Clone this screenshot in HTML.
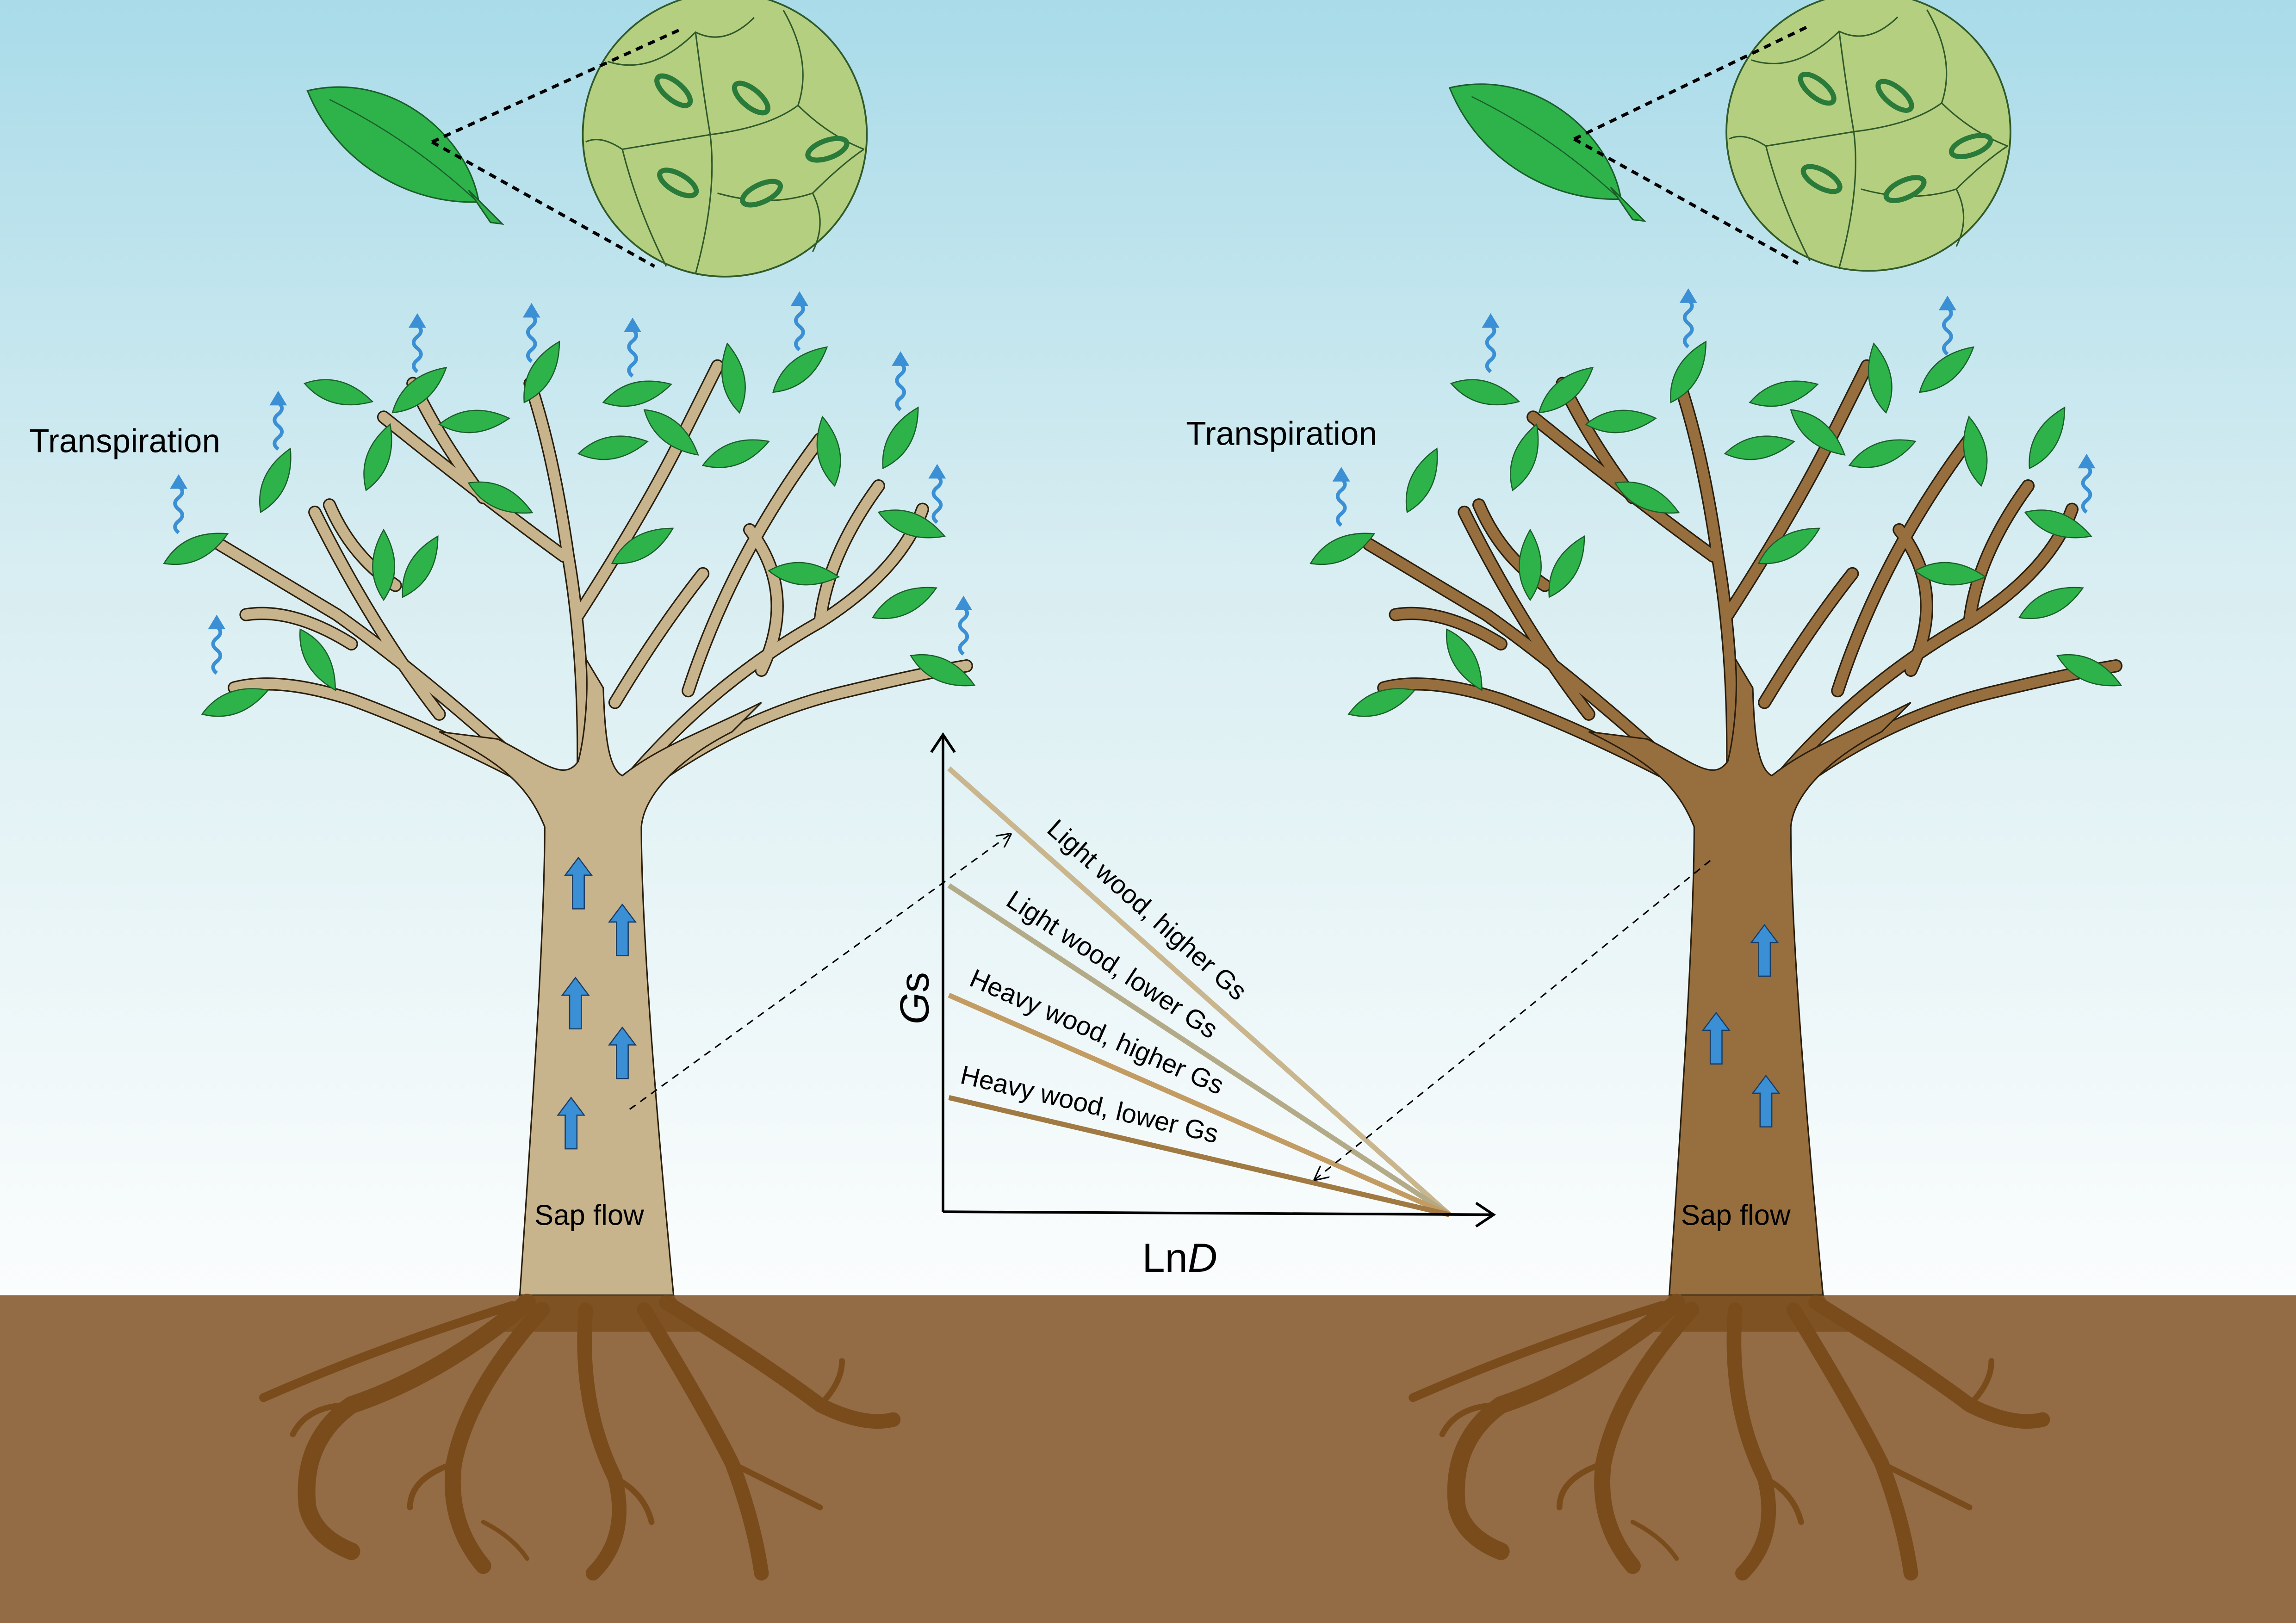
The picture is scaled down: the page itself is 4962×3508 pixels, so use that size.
<!DOCTYPE html>
<html><head><meta charset="utf-8"><style>html,body{margin:0;padding:0}svg{display:block}</style></head><body>
<svg xmlns="http://www.w3.org/2000/svg" xmlns:xlink="http://www.w3.org/1999/xlink" width="4962" height="3508" viewBox="0 0 1568 1109" preserveAspectRatio="none" font-family="Liberation Sans, sans-serif">
<defs>
<linearGradient id="sky" x1="0" y1="0" x2="0" y2="1">
<stop offset="0" stop-color="#a9dbe9"/><stop offset="0.45" stop-color="#d9eef2"/><stop offset="1" stop-color="#fbfdfd"/></linearGradient>
<path id="leaf" d="M0,0 Q22,-15 48,0 Q22,15 0,0Z" fill="#2db34a" stroke="#1b5e2a" stroke-width="0.8"/>
<g id="sq"><path d="M0,0 q5,4 0,8 q-5,4 0,8 q5,4 0,8 q-5,4 0,8" fill="none" stroke="#3b8fd4" stroke-width="2.5"/><path d="M-6,2 L0,-8 L6,2Z" fill="#3b8fd4"/></g>
<path id="sap" d="M-4,35 L-4,12 L-9,12 L0,0 L9,12 L4,12 L4,35Z" fill="#3b8fd4" stroke="#1a3d66" stroke-width="0.8"/>
<g id="br">
<path d="M380,545 Q300,470 230,420 Q180,390 150,372"/>
<path d="M375,540 Q300,500 240,478 Q190,462 160,470"/>
<path d="M300,488 Q255,430 215,350"/>
<path d="M240,440 Q200,415 168,420"/>
<path d="M398,540 Q400,450 388,380 Q378,310 362,262"/>
<path d="M385,380 Q330,340 262,285"/>
<path d="M395,420 Q440,350 465,300 Q480,270 490,250"/>
<path d="M330,340 Q300,300 282,262"/>
<path d="M420,545 Q480,470 560,425 Q615,390 630,348"/>
<path d="M430,545 Q500,490 580,472 Q630,460 660,455"/>
<path d="M520,458 Q545,405 512,362"/>
<path d="M560,425 Q565,380 600,332"/>
<path d="M470,472 Q500,380 560,300"/>
<path d="M225,345 Q240,380 270,400"/>
<path d="M420,480 Q450,430 480,392"/>
</g>
<g id="tree">
<g fill="none" stroke="#2a1e0e" stroke-linecap="round" stroke-linejoin="round" stroke-width="9"><use xlink:href="#br"/></g>
<g fill="none" stroke="currentColor" stroke-linecap="round" stroke-linejoin="round" stroke-width="7"><use xlink:href="#br"/></g>
<path d="M355,885 C362,780 372,640 372,565 C360,535 340,520 300,500 L340,505 C370,520 385,535 395,520 C400,500 402,470 400,450 L412,470 C413,500 415,525 425,530 C450,510 480,500 520,480 L500,500 C470,515 440,540 438,565 C438,640 450,780 460,885Z" fill="currentColor" stroke="#2a1e0e" stroke-width="1"/>
<path d="M355,885 L460,885 Q470,900 480,910 L340,910 Q350,900 355,885Z" fill="#7a4c1c" opacity="0.8"/>
<g fill="none" stroke="#7a4c1c" stroke-linecap="round" stroke-linejoin="round">
<path d="M360,890 Q300,940 240,960 Q205,985 210,1030 Q215,1050 240,1060" stroke-width="12"/>
<path d="M370,895 Q320,950 310,1000 Q305,1040 330,1070" stroke-width="11"/>
<path d="M400,895 Q395,960 420,1010 Q430,1050 405,1075" stroke-width="10"/>
<path d="M440,895 Q480,960 500,1000 Q515,1040 520,1075" stroke-width="10"/>
<path d="M455,890 Q520,930 560,960 Q590,975 610,970" stroke-width="10"/>
<path d="M350,892 Q260,920 180,955" stroke-width="6"/>
<path d="M240,960 Q210,960 200,980" stroke-width="4"/>
<path d="M310,1000 Q280,1010 280,1030" stroke-width="4"/>
<path d="M420,1010 Q440,1020 445,1040" stroke-width="4"/>
<path d="M500,1000 Q540,1020 560,1030" stroke-width="4"/>
<path d="M560,960 Q575,945 575,930" stroke-width="4"/>
<path d="M330,1040 Q350,1050 360,1065" stroke-width="3"/>
</g>
</g>
<g id="circ">
<circle cx="0" cy="0" r="97" fill="#b5cf80" stroke="#2f5a2a" stroke-width="1.2"/>
<g fill="none" stroke="#2f5a2a" stroke-width="1">
<path d="M-80,-50 Q-50,-40 -20,-70 Q0,-60 20,-80 M-20,-70 Q-15,-30 -10,0 Q-40,5 -70,10 M-10,0 Q30,-5 50,-20 Q60,-50 40,-85 M50,-20 Q70,0 95,10 M-70,10 Q-60,50 -40,90 M-10,0 Q-5,40 -20,95 M-5,40 Q30,50 60,40 Q70,60 60,80 M60,40 Q80,20 95,10 M-70,10 Q-85,0 -95,5"/>
</g>
<g fill="#b5cf80" stroke="#2a7a3a" stroke-width="3.5">
<ellipse cx="-35" cy="-30" rx="14" ry="6" transform="rotate(40 -35 -30)"/>
<ellipse cx="18" cy="-25" rx="14" ry="6" transform="rotate(40 18 -25)"/>
<ellipse cx="70" cy="10" rx="14" ry="6" transform="rotate(-20 70 10)"/>
<ellipse cx="-32" cy="33" rx="14" ry="6" transform="rotate(30 -32 33)"/>
<ellipse cx="25" cy="40" rx="14" ry="6" transform="rotate(-25 25 40)"/>
</g>
</g>
<marker id="ah" markerWidth="10" markerHeight="10" refX="9" refY="5" orient="auto" markerUnits="userSpaceOnUse"><path d="M0,0 L10,5 L0,10" fill="none" stroke="#000" stroke-width="1"/></marker>
</defs>
<rect width="1568" height="886" fill="url(#sky)"/>
<rect y="885" width="1568" height="224" fill="#936b45"/>

<use xlink:href="#tree" color="#c8b48c"/>
<use xlink:href="#tree" transform="translate(785,0)" color="#976f3e"/>

<g id="leaves">
<use xlink:href="#leaf" transform="translate(138,488) rotate(-20)"/>
<use xlink:href="#leaf" transform="translate(205,430) rotate(60)"/>
<use xlink:href="#leaf" transform="translate(112,385) rotate(-25)"/>
<use xlink:href="#leaf" transform="translate(178,350) rotate(-65)"/>
<use xlink:href="#leaf" transform="translate(208,262) rotate(15)"/>
<use xlink:href="#leaf" transform="translate(268,282) rotate(-40)"/>
<use xlink:href="#leaf" transform="translate(250,335) rotate(-70)"/>
<use xlink:href="#leaf" transform="translate(275,408) rotate(-60)"/>
<use xlink:href="#leaf" transform="translate(300,290) rotate(-5)"/>
<use xlink:href="#leaf" transform="translate(320,330) rotate(25)"/>
<use xlink:href="#leaf" transform="translate(358,275) rotate(-60)"/>
<use xlink:href="#leaf" transform="translate(412,275) rotate(-15)"/>
<use xlink:href="#leaf" transform="translate(395,310) rotate(-10)"/>
<use xlink:href="#leaf" transform="translate(418,385) rotate(-30)"/>
<use xlink:href="#leaf" transform="translate(440,280) rotate(40)"/>
<use xlink:href="#leaf" transform="translate(480,318) rotate(-20)"/>
<use xlink:href="#leaf" transform="translate(505,282) rotate(-100)"/>
<use xlink:href="#leaf" transform="translate(528,268) rotate(-40)"/>
<use xlink:href="#leaf" transform="translate(570,332) rotate(-100)"/>
<use xlink:href="#leaf" transform="translate(603,320) rotate(-60)"/>
<use xlink:href="#leaf" transform="translate(600,350) rotate(20)"/>
<use xlink:href="#leaf" transform="translate(596,422) rotate(-25)"/>
<use xlink:href="#leaf" transform="translate(525,390) rotate(5)"/>
<use xlink:href="#leaf" transform="translate(622,448) rotate(25)"/>
<use xlink:href="#leaf" transform="translate(262,410) rotate(-90)"/>
</g>
<use xlink:href="#leaves" transform="translate(783,0)"/>

<use xlink:href="#sq" x="122" y="332"/><use xlink:href="#sq" x="148" y="428"/><use xlink:href="#sq" x="190" y="275"/>
<use xlink:href="#sq" x="285" y="222"/><use xlink:href="#sq" x="363" y="215"/><use xlink:href="#sq" x="432" y="225"/>
<use xlink:href="#sq" x="546" y="207"/><use xlink:href="#sq" x="615" y="248"/><use xlink:href="#sq" x="640" y="325"/>
<use xlink:href="#sq" x="658" y="415"/>
<use xlink:href="#sq" x="1018" y="222"/><use xlink:href="#sq" x="1153" y="205"/><use xlink:href="#sq" x="1330" y="210"/>
<use xlink:href="#sq" x="916" y="327"/><use xlink:href="#sq" x="1425" y="318"/>

<use xlink:href="#sap" x="395" y="586"/><use xlink:href="#sap" x="425" y="618"/><use xlink:href="#sap" x="393" y="668"/>
<use xlink:href="#sap" x="425" y="702"/><use xlink:href="#sap" x="390" y="750"/>
<use xlink:href="#sap" x="1205" y="632"/><use xlink:href="#sap" x="1172" y="692"/><use xlink:href="#sap" x="1206" y="735"/>

<text x="20" y="309" font-size="22.5">Transpiration</text>
<text x="810" y="304" font-size="22.5">Transpiration</text>
<text x="365" y="837" font-size="19.5">Sap flow</text>
<text x="1148" y="837" font-size="19.5">Sap flow</text>

<path d="M210,62 C270,48 320,95 327,138 C280,140 230,112 210,62Z" fill="#2db34a" stroke="#1b5e2a" stroke-width="1"/>
<path d="M320,130 L343,153 L335,152Z" fill="#2db34a" stroke="#1b5e2a"/>
<path d="M225,68 Q280,95 325,137" fill="none" stroke="#1b5e2a" stroke-width="0.8"/>
<path d="M990,60 C1050,46 1100,93 1107,136 C1060,138 1010,110 990,60Z" fill="#2db34a" stroke="#1b5e2a" stroke-width="1"/>
<path d="M1100,128 L1123,151 L1115,150Z" fill="#2db34a" stroke="#1b5e2a"/>
<path d="M1005,66 Q1060,93 1105,135" fill="none" stroke="#1b5e2a" stroke-width="0.8"/>
<use xlink:href="#circ" transform="translate(495,92)"/>
<use xlink:href="#circ" transform="translate(1276,90) scale(1,0.98)"/>
<g stroke="#000" stroke-width="2.2" stroke-dasharray="5,4" fill="none">
<path d="M295,97 L465,20 M295,97 L447,182"/>
<path d="M1075,95 L1235,18 M1075,95 L1228,180"/>
</g>

<g stroke-width="3.5" fill="none">
<path d="M648,525 L990,830" stroke="#c9b68e"/>
<path d="M648,605 L990,830" stroke="#b3ab88"/>
<path d="M648,680 L990,830" stroke="#c39c64"/>
<path d="M648,750 L990,830" stroke="#a07a42"/>
</g>
<g stroke="#000" stroke-width="1.8" fill="none">
<path d="M644,828 L644,502 M636,514 L644,502 L652,514"/>
<path d="M644,828 L1020,830 M1008,822 L1020,830 L1008,838"/>
</g>
<g stroke="#000" stroke-width="1" stroke-dasharray="5,4" fill="none">
<path d="M430,758 L690,570" marker-end="url(#ah)"/>
<path d="M1168,588 L898,806" marker-end="url(#ah)"/>
</g>
<g font-size="18">
<text transform="translate(714,568) rotate(41.7)">Light wood, higher Gs</text>
<text transform="translate(686,618) rotate(33.3)">Light wood, lower Gs</text>
<text transform="translate(661,673) rotate(23.7)">Heavy wood, higher Gs</text>
<text transform="translate(655,740) rotate(13.2)">Heavy wood, lower Gs</text>
</g>
<text transform="translate(634,700) rotate(-90)" font-size="28"><tspan font-style="italic">G</tspan>s</text>
<text x="780" y="869" font-size="28">Ln<tspan font-style="italic">D</tspan></text>
</svg>
</body></html>
